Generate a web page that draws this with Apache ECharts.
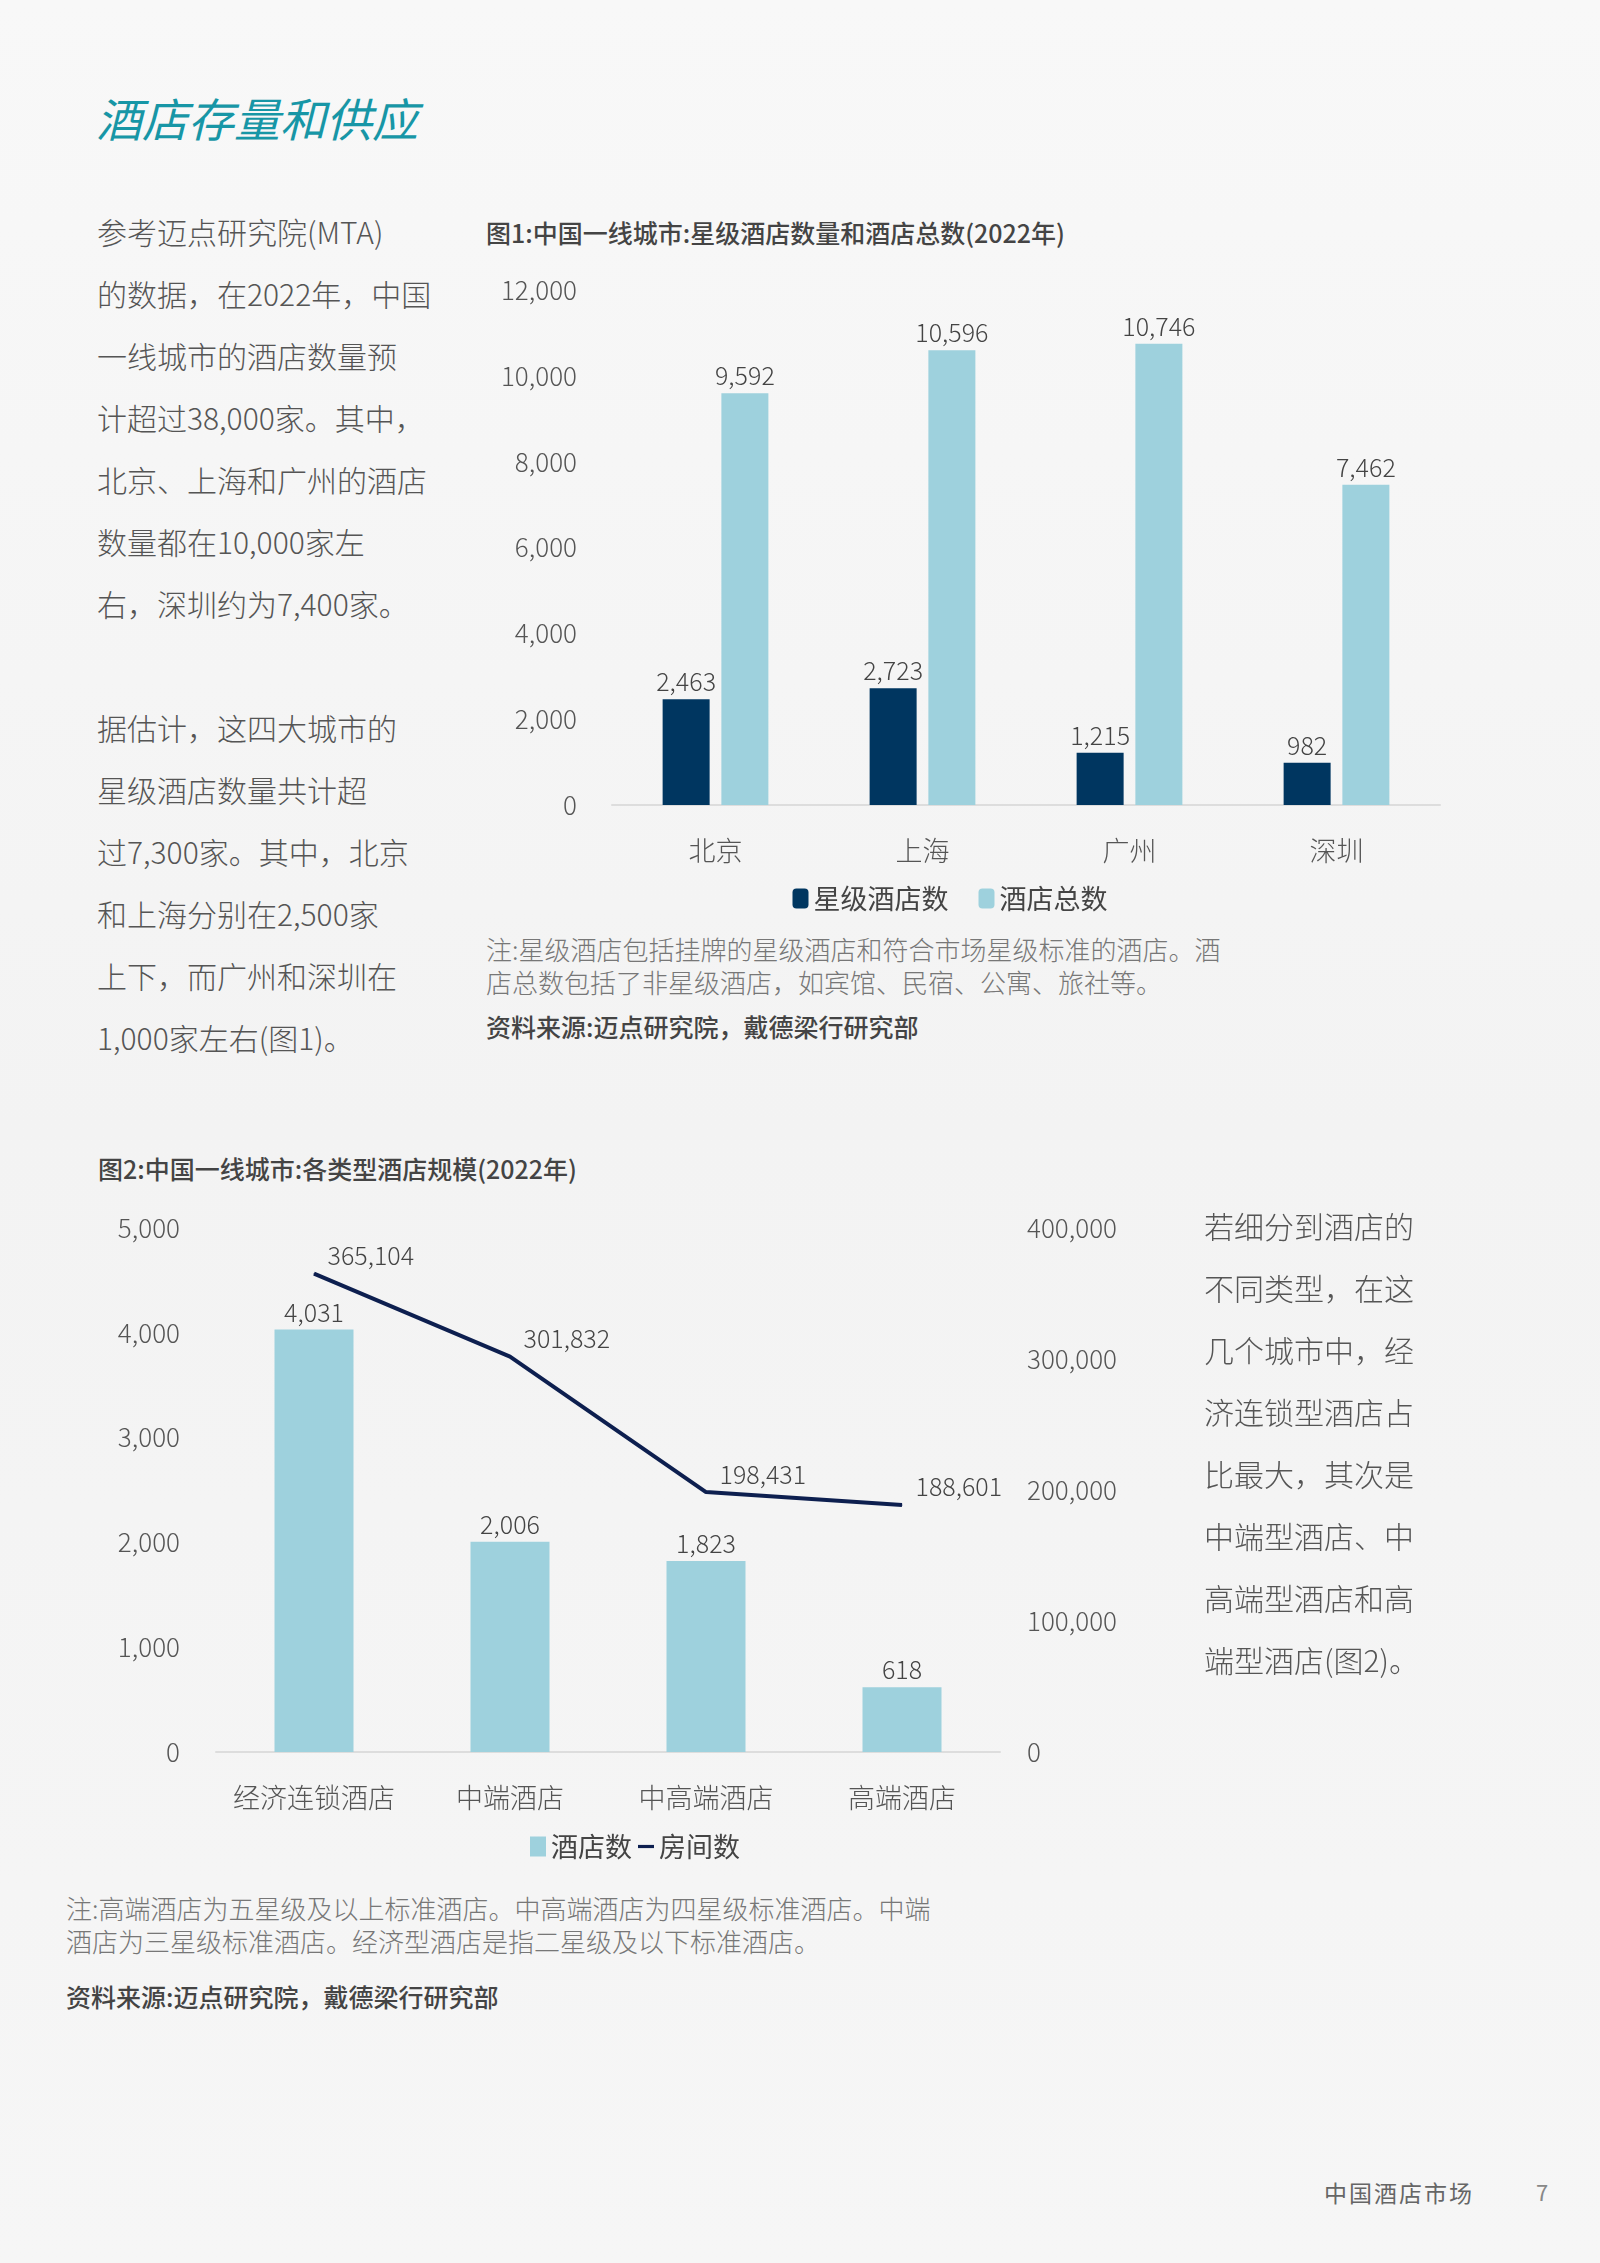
<!DOCTYPE html>
<html><head><meta charset="utf-8">
<script src="https://cdn.jsdelivr.net/npm/echarts@6/dist/echarts.min.js"></script>
<style>
body{margin:0;width:1600px;height:2263px;background:linear-gradient(180deg,#f8f8f8,#f3f3f3 50%,#f6f6f6);font-family:"Noto Sans CJK SC","Noto Sans",sans-serif;position:relative;overflow:hidden;color:#555}
.abs{position:absolute}
h1{position:absolute;left:96px;top:84px;margin:0;font-size:46px;font-weight:400;font-style:italic;color:#1796a6}
.para{font-size:30px;line-height:62px;color:#555;font-weight:300}
.ctitle{font-size:25px;font-weight:500;color:#444}
.note{font-size:26px;line-height:33px;color:#777;font-weight:300}
.src{font-size:25px;color:#444;font-weight:500}
</style></head><body>
<h1>酒店存量和供应</h1>
<div class="abs para" style="left:97px;top:200px;width:350px">参考迈点研究院(MTA)<br>的数据，在2022年，中国<br>一线城市的酒店数量预<br>计超过38,000家。其中，<br>北京、上海和广州的酒店<br>数量都在10,000家左<br>右，深圳约为7,400家。<br><br>据估计，这四大城市的<br>星级酒店数量共计超<br>过7,300家。其中，北京<br>和上海分别在2,500家<br>上下，而广州和深圳在<br>1,000家左右(图1)。</div>
<div class="abs ctitle" style="left:486px;top:214px">图1:中国一线城市:星级酒店数量和酒店总数(2022年)</div>
<div id="c1" class="abs" style="left:450px;top:260px;width:1000px;height:670px"></div>
<div class="abs note" style="left:486px;top:932px">注:星级酒店包括挂牌的星级酒店和符合市场星级标准的酒店。酒<br>店总数包括了非星级酒店，如宾馆、民宿、公寓、旅社等。</div>
<div class="abs src" style="left:486px;top:1008px">资料来源:迈点研究院，戴德梁行研究部</div>

<div class="abs ctitle" style="left:98px;top:1150px">图2:中国一线城市:各类型酒店规模(2022年)</div>
<div id="c2" class="abs" style="left:60px;top:1200px;width:1150px;height:680px"></div>
<div class="abs para" style="left:1204px;top:1194px;width:380px">若细分到酒店的<br>不同类型，在这<br>几个城市中，经<br>济连锁型酒店占<br>比最大，其次是<br>中端型酒店、中<br>高端型酒店和高<br>端型酒店(图2)。</div>
<div class="abs note" style="left:66px;top:1891px">注:高端酒店为五星级及以上标准酒店。中高端酒店为四星级标准酒店。中端<br>酒店为三星级标准酒店。经济型酒店是指二星级及以下标准酒店。</div>
<div class="abs src" style="left:66px;top:1978px">资料来源:迈点研究院，戴德梁行研究部</div>
<div class="abs" style="left:1324px;top:2175px;font-size:23px;color:#666;letter-spacing:2px">中国酒店市场</div>
<div class="abs" style="left:1536px;top:2175px;font-size:22px;color:#888">7</div>
<script>
const cities = ['北京', '上海', '广州', '深圳'];
const starHotels = [2463, 2723, 1215, 982];
const totalHotels = [9592, 10596, 10746, 7462];
const types = ['经济连锁酒店', '中端酒店', '中高端酒店', '高端酒店'];
const hotelCount = [4031, 2006, 1823, 618];
const roomCount = [365104, 301832, 198431, 188601];

const font = '"Noto Sans CJK SC","Noto Sans",sans-serif';
const numFmt = p => Number(p.value).toLocaleString('en-US');
const axisTxt = { color: '#555', fontSize: 26, fontFamily: font, fontWeight: 300 };

const c1 = echarts.init(document.getElementById('c1'));
c1.setOption({
  animation: false,
  grid: { left: 162, right: 10, top: 30, bottom: 125 },
  legend: {
    top: 620, left: 'center', itemWidth: 16, itemHeight: 20, itemGap: 30,
    textStyle: { color: '#444', fontSize: 27, fontFamily: font }
  },
  xAxis: {
    type: 'category', data: cities,
    axisLine: { lineStyle: { color: '#ddd', width: 2 } }, axisTick: { show: false },
    axisLabel: { ...axisTxt, fontSize: 27, margin: 32, interval: 0 }
  },
  yAxis: {
    type: 'value', min: 0, max: 12000, interval: 2000,
    axisLabel: { ...axisTxt, margin: 35, formatter: v => v.toLocaleString('en-US') },
    splitLine: { show: false }
  },
  series: [
    { name: '星级酒店数', type: 'bar', data: starHotels, barWidth: 47, barGap: '25%',
      itemStyle: { color: '#003660' },
      label: { show: true, position: 'top', formatter: numFmt, ...axisTxt, color: '#444', fontSize: 25 } },
    { name: '酒店总数', type: 'bar', data: totalHotels, barWidth: 47,
      itemStyle: { color: '#9ed1dd' },
      label: { show: true, position: 'top', formatter: numFmt, ...axisTxt, color: '#444', fontSize: 25 } }
  ]
});

const c2 = echarts.init(document.getElementById('c2'));
c2.setOption({
  animation: false,
  grid: { left: 156, right: 210, top: 28, bottom: 128 },
  legend: {
    top: 628, left: 'center', itemGap: 6,
    textStyle: { color: '#444', fontSize: 27, fontFamily: font },
    data: [{ name: '酒店数', icon: 'rect', itemStyle: { color: '#9ed1dd' } },
           { name: '房间数', icon: 'path://M0,8L20,8L20,12L0,12Z', itemStyle: { color: '#0d1f4f' } }],
    itemWidth: 16, itemHeight: 20
  },
  xAxis: {
    type: 'category', data: types,
    axisLine: { lineStyle: { color: '#ddd', width: 2 } }, axisTick: { show: false },
    axisLabel: { ...axisTxt, fontSize: 27, margin: 32, interval: 0 }
  },
  yAxis: [
    { type: 'value', min: 0, max: 5000, interval: 1000,
      axisLabel: { ...axisTxt, margin: 36, formatter: v => v.toLocaleString('en-US') },
      splitLine: { show: false } },
    { type: 'value', min: 0, max: 400000, interval: 100000,
      axisLabel: { ...axisTxt, margin: 27, formatter: v => v.toLocaleString('en-US') },
      splitLine: { show: false } }
  ],
  series: [
    { name: '酒店数', type: 'bar', data: hotelCount, barWidth: 79,
      itemStyle: { color: '#9ed1dd' },
      label: { show: true, position: 'top', formatter: numFmt, ...axisTxt, color: '#444', fontSize: 25 } },
    { name: '房间数', type: 'line', yAxisIndex: 1, data: roomCount,
      symbol: 'circle', symbolSize: 1, showSymbol: true,
      itemStyle: { color: '#0d1f4f' },
      lineStyle: { color: '#0d1f4f', width: 4 },
      labelLayout: { hideOverlap: false },
      label: { show: true, position: [14, -30], formatter: numFmt, ...axisTxt, color: '#444', fontSize: 25 } }
  ]
});
</script>
</body></html>
